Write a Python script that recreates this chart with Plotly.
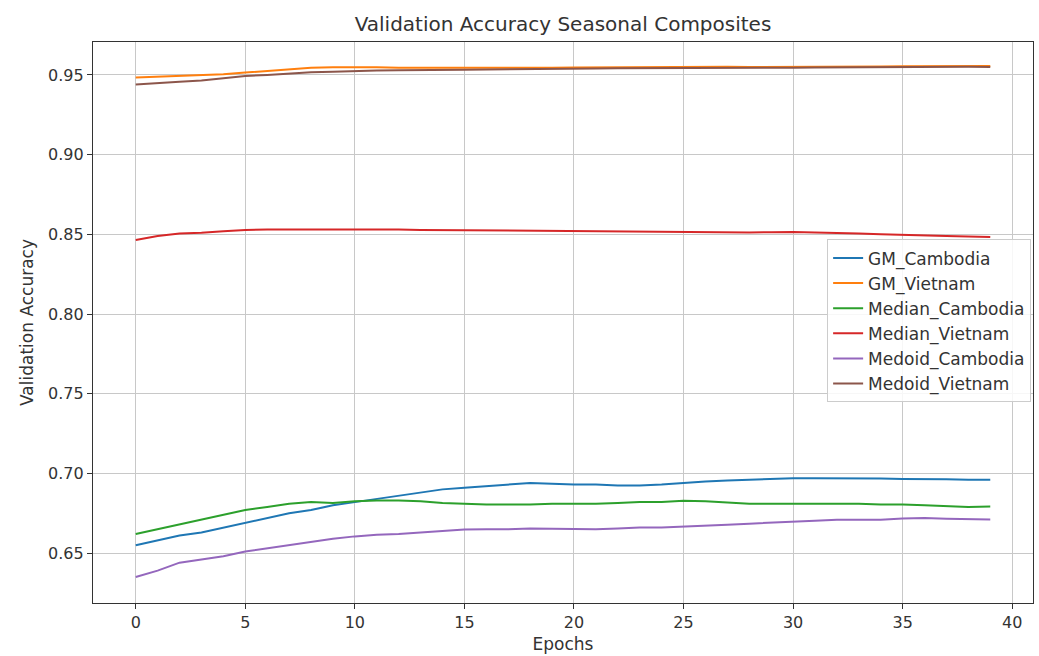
import plotly.graph_objects as go

epochs = list(range(40))

gm_cambodia = [0.655, 0.658, 0.661, 0.663, 0.666, 0.669, 0.672, 0.675, 0.677, 0.680,
               0.682, 0.684, 0.686, 0.688, 0.690, 0.691, 0.692, 0.693, 0.694, 0.6935,
               0.693, 0.693, 0.6925, 0.6925, 0.693, 0.694, 0.695, 0.6955, 0.696, 0.6965,
               0.697, 0.697, 0.697, 0.697, 0.6968, 0.6965, 0.6965, 0.6963, 0.696, 0.696]

gm_vietnam = [0.9485, 0.949, 0.9493, 0.9498, 0.9505, 0.9515, 0.9525, 0.9535, 0.9545, 0.9548,
              0.955, 0.9548, 0.9545, 0.9545, 0.9543, 0.9542, 0.9542, 0.9543, 0.9545, 0.9546,
              0.9547, 0.9548, 0.9548, 0.9549, 0.955, 0.955, 0.9551, 0.9551, 0.955, 0.955,
              0.9551, 0.9552, 0.9553, 0.9553, 0.9554, 0.9555, 0.9556, 0.9557, 0.9557, 0.9557]

median_cambodia = [0.662, 0.665, 0.668, 0.671, 0.674, 0.677, 0.679, 0.681, 0.682, 0.6815,
                   0.6825, 0.683, 0.683, 0.6825, 0.6815, 0.681, 0.6805, 0.6805, 0.6805, 0.681,
                   0.681, 0.681, 0.6815, 0.682, 0.682, 0.6828, 0.6825, 0.6818, 0.681, 0.681,
                   0.681, 0.681, 0.6808, 0.681, 0.6805, 0.6805, 0.680, 0.6795, 0.679, 0.6792]

median_vietnam = [0.8465, 0.849, 0.8505, 0.851, 0.852, 0.8528, 0.853, 0.853, 0.8532, 0.853,
                  0.8533, 0.8532, 0.853, 0.8528, 0.8527, 0.8525, 0.8522, 0.852, 0.852, 0.852,
                  0.852, 0.8518, 0.8517, 0.8516, 0.8515, 0.8513, 0.8512, 0.8512, 0.8512, 0.8513,
                  0.8515, 0.8512, 0.851, 0.8505, 0.850, 0.8498, 0.8495, 0.849, 0.8487, 0.8483]

medoid_cambodia = [0.635, 0.639, 0.644, 0.646, 0.648, 0.651, 0.653, 0.655, 0.657, 0.659,
                   0.6605, 0.6615, 0.662, 0.663, 0.664, 0.6648, 0.665, 0.665, 0.6655, 0.6653,
                   0.665, 0.665, 0.6655, 0.666, 0.666, 0.6665, 0.667, 0.6678, 0.6685, 0.669,
                   0.6697, 0.6703, 0.671, 0.671, 0.671, 0.6717, 0.672, 0.6715, 0.6711, 0.6711]

medoid_vietnam = [0.944, 0.945, 0.9458, 0.9465, 0.948, 0.9494, 0.950, 0.951, 0.9517, 0.952,
                  0.9525, 0.9528, 0.953, 0.953, 0.9532, 0.9533, 0.9535, 0.9537, 0.9538, 0.954,
                  0.954, 0.9541, 0.9542, 0.9542, 0.9543, 0.9545, 0.9546, 0.9546, 0.9545, 0.9545,
                  0.9546, 0.9547, 0.9548, 0.9548, 0.9549, 0.955, 0.955, 0.9551, 0.9551, 0.955]

series_names = ["GM_Cambodia", "GM_Vietnam", "Median_Cambodia", "Median_Vietnam",
                "Medoid_Cambodia", "Medoid_Vietnam"]
series_values = [gm_cambodia, gm_vietnam, median_cambodia, median_vietnam,
                 medoid_cambodia, medoid_vietnam]
colors = ["#1f77b4", "#ff7f0e", "#2ca02c", "#d62728", "#9467bd", "#8c564b"]

x_ticks = [0, 5, 10, 15, 20, 25, 30, 35, 40]
y_ticks = [0.65, 0.70, 0.75, 0.80, 0.85, 0.90, 0.95]

fig = go.Figure()
for name, vals, c in zip(series_names, series_values, colors):
    fig.add_trace(go.Scatter(x=epochs, y=vals, mode="lines", name=name,
                             line=dict(color=c, width=2)))

font_family = "DejaVu Sans"
fig.update_layout(
    width=1039, height=656,
    margin=dict(l=93, r=6, t=42, b=53),
    paper_bgcolor="white", plot_bgcolor="white",
    font=dict(family=font_family, size=16, color="#333333"),
    title=dict(text="Validation Accuracy Seasonal Composites", x=0.5, xanchor="center",
               xref="paper",
               y=1 - 24 / 656, yanchor="middle", font=dict(size=20, color="#333333")),
    legend=dict(x=0.998, xanchor="right", y=0.648, yanchor="top",
                bgcolor="rgba(255,255,255,0.85)", bordercolor="#cccccc", borderwidth=1,
                font=dict(size=17, color="#333333"), tracegroupgap=0),
    showlegend=True,
)
fig.update_xaxes(
    range=[-1.95, 40.95], tickvals=x_ticks, ticktext=[str(t) for t in x_ticks],
    showgrid=True, gridcolor="#c8c8c8", gridwidth=1,
    showline=True, linecolor="#333333", linewidth=1.2, mirror=True,
    ticks="outside", ticklen=5, tickcolor="#333333", zeroline=False,
    tickfont=dict(size=16),
    title=dict(text="Epochs", standoff=6, font=dict(size=17)),
)
fig.update_yaxes(
    range=[0.6187, 0.9707], tickvals=y_ticks, ticktext=[f"{t:.2f}" for t in y_ticks],
    showgrid=True, gridcolor="#c8c8c8", gridwidth=1,
    showline=True, linecolor="#333333", linewidth=1.2, mirror=True,
    ticks="outside", ticklen=5, tickcolor="#333333", zeroline=False,
    tickfont=dict(size=16),
    title=dict(text="Validation Accuracy", standoff=10, font=dict(size=17)),
)

fig.write_html("out.html")
